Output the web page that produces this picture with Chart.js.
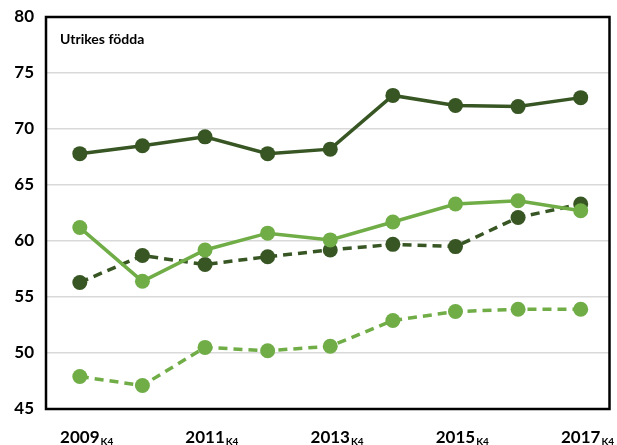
<!DOCTYPE html>
<html>
<head>
<meta charset="utf-8">
<script src="https://cdn.jsdelivr.net/npm/chart.js@4"></script>
<style>
  html, body { margin: 0; padding: 0; background: #fff; }
  #wrap { width: 617px; height: 445px; }
</style>
</head>
<body>
<div id="wrap"><canvas id="myChart" width="617" height="445"></canvas></div>
<script>
var years = ["2009", "2010", "2011", "2012", "2013", "2014", "2015", "2016", "2017"];
var quarterTag = "K4";
var darkSolid = [67.8, 68.5, 69.3, 67.8, 68.2, 73.0, 72.1, 72.0, 72.8];
var lightSolid = [61.2, 56.4, 59.2, 60.7, 60.1, 61.7, 63.3, 63.6, 62.7];
var darkDashed = [56.3, 58.7, 57.9, 58.6, 59.2, 59.7, 59.5, 62.1, 63.3];
var lightDashed = [47.9, 47.1, 50.5, 50.2, 50.6, 52.9, 53.7, 53.9, 53.9];
var yTicks = [45, 50, 55, 60, 65, 70, 75, 80];
var panelTitle = "Utrikes födda";

var dark = "#375623";
var light = "#70AD47";
var font = "Lato, 'Open Sans', sans-serif";

function series(values, color, dashed, order) {
    return {
        data: values.map(function(v, i) { return { x: i, y: v }; }),
        borderColor: color,
        backgroundColor: color,
        borderWidth: 3.5,
        borderDash: dashed ? [9, 6] : [],
        pointRadius: 7.5,
        pointHoverRadius: 7.5,
        pointBorderWidth: 0,
        pointBackgroundColor: color,
        tension: 0,
        order: order
    };
}

// frame, title and x labels with subscript
var extras = {
    id: 'extras',
    afterDatasetsDraw: function(chart) {
        var ctx = chart.ctx;
        var a = chart.chartArea;
        ctx.save();
        ctx.strokeStyle = "#000";
        ctx.lineWidth = 2.5;
        ctx.strokeRect(a.left, a.top, a.right - a.left, a.bottom - a.top);

        ctx.fillStyle = "#000";
        ctx.font = "bold 14px " + font;
        ctx.textAlign = "left";
        ctx.textBaseline = "alphabetic";
        ctx.fillText(panelTitle, a.left + 14, a.top + 27);

        var xs = chart.scales.x;
        for (var i = 0; i < years.length; i += 2) {
            var px = xs.getPixelForValue(i);
            ctx.font = "bold 17px " + font;
            ctx.textAlign = "center";
            ctx.fillText(years[i], px, 443);
            var w = ctx.measureText(years[i]).width;
            ctx.font = "bold 10px " + font;
            ctx.textAlign = "left";
            ctx.fillText(quarterTag, px + w / 2 + 1, 445);
        }
        ctx.restore();
    }
};

var ctx = document.getElementById("myChart");
var myChart = new Chart(ctx, {
    type: 'line',
    data: {
        datasets: [
            series(lightSolid, light, false, 0),
            series(darkDashed, dark, true, 1),
            series(darkSolid, dark, false, 2),
            series(lightDashed, light, true, 3)
        ]
    },
    options: {
        responsive: false,
        animation: false,
        layout: { padding: { top: 17, right: 4, left: 0, bottom: 0 } },
        plugins: {
            legend: { display: false },
            tooltip: { enabled: false }
        },
        scales: {
            x: {
                type: 'linear',
                min: -0.54,
                max: years.length - 1 + 0.46,
                grid: { display: false },
                border: { display: false },
                ticks: { display: false },
                afterFit: function(s) { s.height = 36; s.paddingLeft = 0; s.paddingRight = 0; }
            },
            y: {
                min: 45,
                max: 80,
                afterBuildTicks: function(s) {
                    s.ticks = yTicks.map(function(v) { return { value: v }; });
                },
                grid: { color: "#d9d9d9", lineWidth: 1.5, drawTicks: false },
                border: { display: false },
                ticks: {
                    color: "#000",
                    padding: 12,
                    font: { family: font, size: 17, weight: 'bold' }
                },
                afterFit: function(s) { s.width = 46; s.paddingTop = 0; s.paddingBottom = 0; }
            }
        }
    },
    plugins: [extras]
});
</script>
</body>
</html>
